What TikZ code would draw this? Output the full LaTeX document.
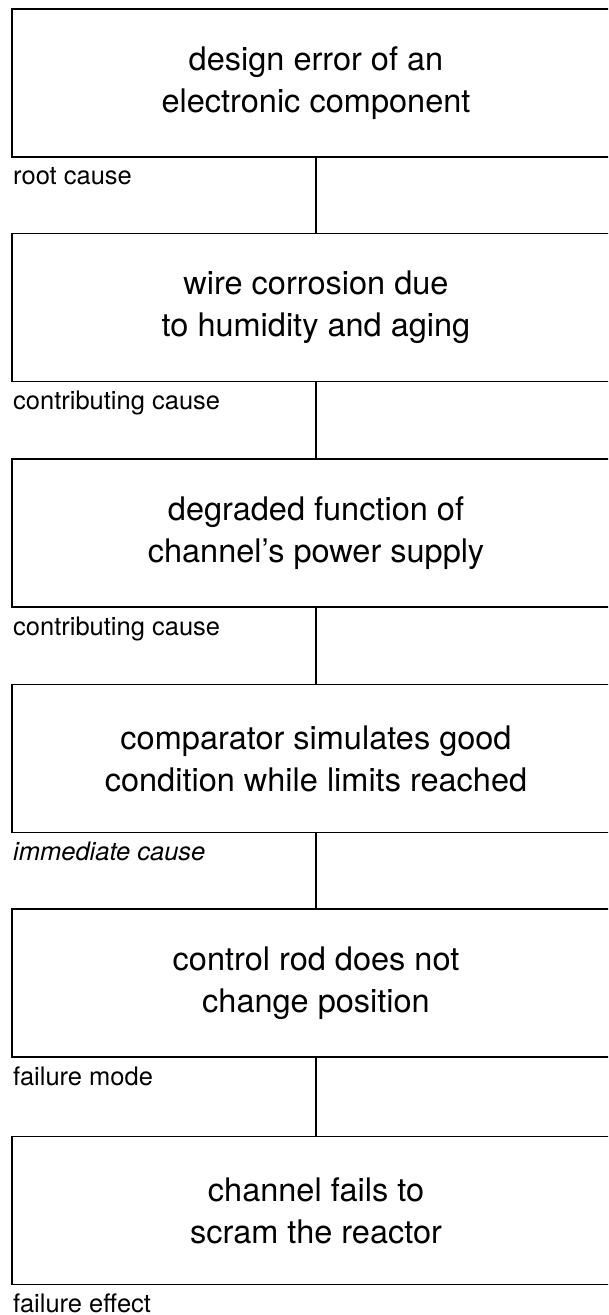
\documentclass[tikz,border=0pt]{standalone}
\usepackage{fontspec}
\setmainfont{TeX Gyre Heros}
\begin{document}
\begin{tikzpicture}[x=1pt,y=-1pt,
    stage/.style={draw,line width=1.2pt,rectangle,minimum width=608pt,
      minimum height=148pt,inner sep=0pt,align=center,
      font=\fontsize{32.5}{42}\selectfont},
    tag/.style={anchor=base west,inner sep=0pt,font=\fontsize{25.5}{30}\selectfont}]
  \useasboundingbox (0,0) rectangle (608,1315);
  \clip (0,0) rectangle (608,1315);
  \draw
    (316,83) node[stage] (root){design error of an\\electronic component}
    (316,307.5) node[stage] (wire){wire corrosion due\\to humidity and aging}
    (316,533) node[stage] (power){degraded function of\\channel's power supply}
    (316,758.5) node[stage] (comp){comparator simulates good\\condition while limits reached}
    (316,983) node[stage] (rod){control rod does not\\change position}
    (316,1210.5) node[stage] (scram){channel fails to\\scram the reactor};
  \draw
    (13,184) node[tag] (l1){root cause}
    (13,409) node[tag] (l2){contributing cause}
    (13,635) node[tag] (l3){contributing cause}
    (13,860) node[tag] (l4){\itshape immediate cause}
    (13,1085) node[tag] (l5){failure mode}
    (13,1312) node[tag] (l6){failure effect};
  \begin{scope}[line width=1.2pt]
    \draw (root.south) to (wire.north);
    \draw (wire.south) to (power.north);
    \draw (power.south) to (comp.north);
    \draw (comp.south) to (rod.north);
    \draw (rod.south) to (scram.north);
  \end{scope}
\end{tikzpicture}
\end{document}
